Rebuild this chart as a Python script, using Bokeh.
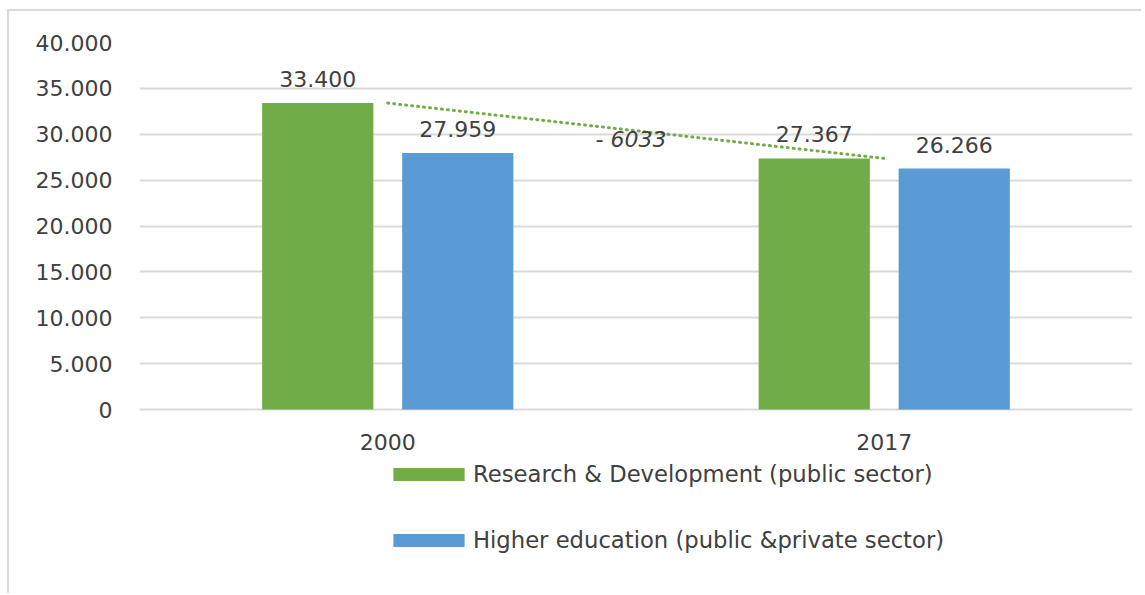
from bokeh.plotting import figure
from bokeh.models import ColumnDataSource, FixedTicker, Legend, LegendItem
from bokeh.transform import dodge
from bokeh.core.properties import value
from bokeh.embed import file_html
from bokeh.resources import INLINE

# ---- data ----
years = ["2000", "2017"]
rd_public = [33400, 27367]
higher_edu = [27959, 26266]
y_ticks = [0, 5000, 10000, 15000, 20000, 25000, 30000, 35000, 40000]
series_names = ["Research & Development (public sector)",
                "Higher education (public &private sector)"]

GREEN = "#70ad47"
BLUE = "#5b9bd5"
TXT = "#404040"
FONT = "DejaVu Sans"
FS = "22px"


def fmt(v):
    return f"{v:,}".replace(",", ".")


src = ColumnDataSource(dict(
    year=years, rd=rd_public, he=higher_edu,
    rd_lbl=[fmt(v) for v in rd_public],
    he_lbl=[fmt(v) for v in higher_edu],
))

# frame: top at 40000 (y=42), bottom of canvas = 595; 0 sits at y=409
Y_TOP = 40000
Y_BOTTOM = -Y_TOP * (595 - 409) / (409 - 42)

p = figure(x_range=years, y_range=(Y_BOTTOM, Y_TOP), width=1134, height=584,
           output_backend="svg", toolbar_location=None,
           min_border_left=130, min_border_right=11,
           min_border_top=31, min_border_bottom=0)
p.styles = {"border-left": "2px solid #d9d9d9", "border-top": "2px solid #d9d9d9",
            "border-right": "none", "border-bottom": "none",
            "margin-left": "7px", "margin-top": "9px"}
p.x_range.range_padding = 0
p.outline_line_color = None
p.background_fill_color = "white"
p.border_fill_color = "white"

# bars
bw = 0.224
off = 0.141
r1 = p.vbar(x=dodge("year", -off, range=p.x_range), top="rd", width=bw,
            source=src, fill_color=GREEN, line_color=None)
r2 = p.vbar(x=dodge("year", off, range=p.x_range), top="he", width=bw,
            source=src, fill_color=BLUE, line_color=None)

# data labels
for col, lbl, o in (("rd", "rd_lbl", -off), ("he", "he_lbl", off)):
    p.text(x=dodge("year", o, range=p.x_range), y=col, text=lbl, source=src,
           text_align="center", text_baseline="bottom", y_offset=-16,
           text_font=value(FONT), text_font_size=FS, text_color=TXT)

# trend line between R&D bars
tsrc = ColumnDataSource(dict(x=years, y=rd_public))
p.line(x="x", y="y", source=tsrc, line_color=GREEN, line_width=3,
       line_dash="1 5", line_cap="round")

diff = rd_public[0] - rd_public[1]
dsrc = ColumnDataSource(dict(x=["2000"],
                             y=[(rd_public[0] + rd_public[1]) / 2],
                             t=[f"- {diff}"]))
p.text(x=dodge("x", 0.5, range=p.x_range), y="y", text="t", source=dsrc,
       text_align="center", text_baseline="middle", x_offset=-5, y_offset=9,
       text_font=value(FONT), text_font_size=FS, text_font_style="italic",
       text_color=TXT)

# axes
p.yaxis.ticker = FixedTicker(ticks=y_ticks)
p.yaxis.major_label_overrides = {t: fmt(t) for t in y_ticks}
p.xaxis.fixed_location = 0
for ax in (p.xaxis[0], p.yaxis[0]):
    ax.axis_line_color = None
    ax.major_tick_line_color = None
    ax.minor_tick_line_color = None
    ax.major_label_text_font = FONT
    ax.major_label_text_font_size = FS
    ax.major_label_text_color = TXT
p.yaxis.major_label_standoff = 21
p.xaxis.major_label_standoff = 18

p.xgrid.grid_line_color = None
p.ygrid.grid_line_color = "#d9d9d9"
p.ygrid.grid_line_width = 2

legend = Legend(items=[LegendItem(label=series_names[0], renderers=[r1]),
                       LegendItem(label=series_names[1], renderers=[r2])],
                location=(245, 42), orientation="vertical",
                glyph_width=89, glyph_height=16, label_height=16,
                label_standoff=0, spacing=40, padding=0, margin=0,
                border_line_color=None, background_fill_alpha=0,
                label_text_font=FONT, label_text_font_size="22.7px",
                label_text_color=TXT)
p.add_layout(legend, "center")

open("out.html", "w").write(file_html(p, INLINE))
